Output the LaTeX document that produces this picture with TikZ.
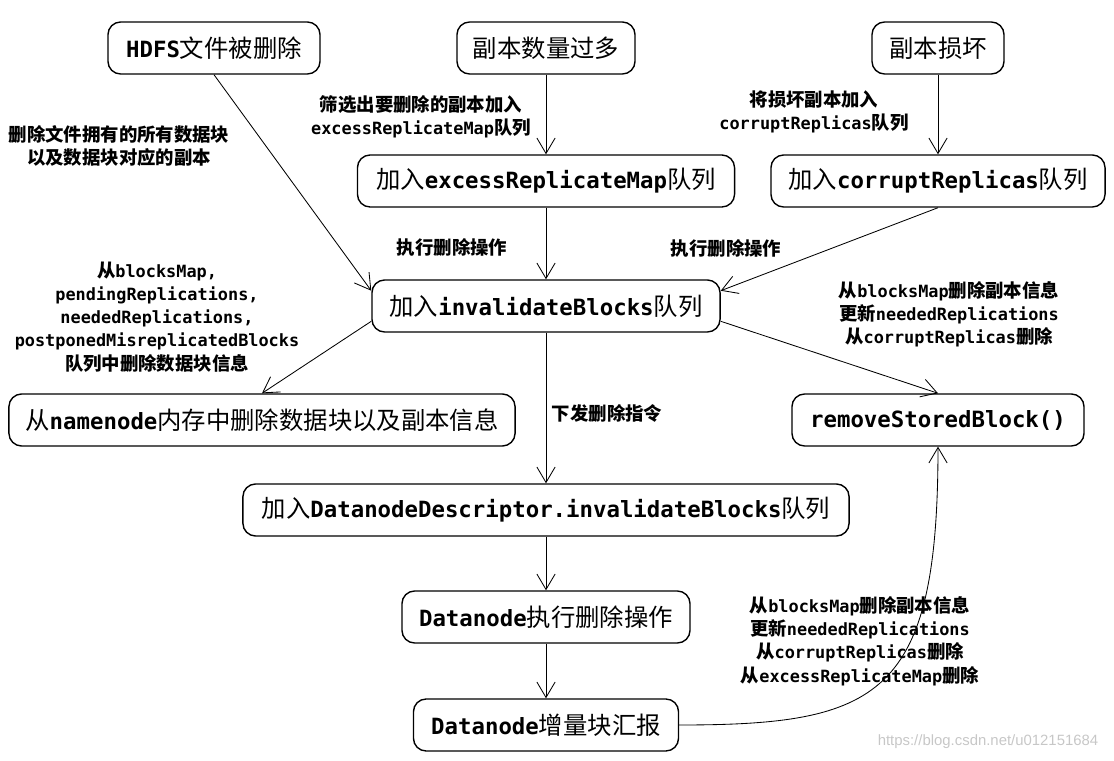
\documentclass[tikz,border=0pt]{standalone}
\usepackage{fontspec}
\setmainfont{Noto Sans CJK SC}[Scale=1.09]
\setmonofont{DejaVu Sans Mono}
\newfontfamily\marca{Liberation Sans}
\usetikzlibrary{arrows.meta}
\newcommand{\en}[1]{{\ttfamily\bfseries #1}}
\tikzset{
  caja/.style={draw,rounded corners=9pt,line width=1pt,minimum height=1.3cm,inner xsep=3pt,font=\fontsize{15.9}{19}\selectfont},
  nota/.style={align=center,inner sep=0pt,font=\fontsize{12}{16.5}\selectfont\bfseries},
  flecha/.style={-{Straight Barb[length=11pt,width=13pt]},line width=0.6pt}
}
\begin{document}
\begin{tikzpicture}[x=0.025cm,y=-0.025cm]
\useasboundingbox (0,0) rectangle (1114,761);
\node[caja,minimum width=5.3cm] (hdfs) at (214,48) {\en{HDFS}文件被删除};
\node[caja,minimum width=4.45cm] (mucho) at (546,48) {副本数量过多};
\node[caja,minimum width=3.3cm] (roto) at (938,48) {副本损坏};
\node[caja,minimum width=9.425cm] (excess) at (546,181) {加入\en{excessReplicateMap}队列};
\node[caja,minimum width=8.35cm] (corrupt) at (938,181) {加入\en{corruptReplicas}队列};
\node[caja,minimum width=8.7cm] (inval) at (546,306) {加入\en{invalidateBlocks}队列};
\node[caja,minimum width=12.65cm] (nn) at (262,420) {从\en{namenode}内存中删除数据块以及副本信息};
\node[caja,minimum width=7.3cm] (rsb) at (938,420) {\en{removeStoredBlock()}};
\node[caja,minimum width=15.15cm] (desc) at (546,510) {加入\en{DatanodeDescriptor.invalidateBlocks}队列};
\node[caja,minimum width=7.2cm] (exec) at (546,617) {\en{Datanode}执行删除操作};
\node[caja,minimum width=6.625cm] (report) at (546,725) {\en{Datanode}增量块汇报};
\node[nota] (n1) at (119,146) {删除文件拥有的所有数据块\\以及数据块对应的副本};
\node[nota] (n2) at (421,117) {筛选出要删除的副本加入\\\en{excessReplicateMap}队列};
\node[nota] (n3) at (814,112) {将损坏副本加入\\\en{corruptReplicas}队列};
\node[nota] (n4) at (452,247) {执行删除操作};
\node[nota] (n5) at (726,248) {执行删除操作};
\node[nota] (n6) at (157,317) {从\en{blocksMap,}\\\en{pendingReplications,}\\\en{neededReplications,}\\\en{postponedMisreplicatedBlocks}\\队列中删除数据块信息};
\node[nota] (n7) at (949,314) {从\en{blocksMap}删除副本信息\\更新\en{neededReplications}\\从\en{corruptReplicas}删除};
\node[nota] (n8) at (607,413) {下发删除指令};
\node[nota] (n9) at (860,641) {从\en{blocksMap}删除副本信息\\更新\en{neededReplications}\\从\en{corruptReplicas}删除\\从\en{excessReplicateMap}删除};
\node[text=black!22,font=\marca\fontsize{10.6}{12}\selectfont] (marca) at (988,742) {https://blog.csdn.net/u012151684};
\draw[flecha] (hdfs.south) -- (inval.175);
\draw[flecha] (mucho) -- (excess);
\draw[flecha] (roto) -- (corrupt);
\draw[flecha] (excess) -- (inval);
\draw[flecha] (corrupt.south) -- (inval.5);
\draw[flecha] (inval.185) -- (nn.north);
\draw[flecha] (inval.355) -- (rsb.north);
\draw[flecha] (inval) -- (desc);
\draw[flecha] (desc) -- (exec);
\draw[flecha] (exec) -- (report);
\draw[flecha] (report.east) .. controls +(200,0) and +(0,250) .. (rsb.south);
\end{tikzpicture}
\end{document}
